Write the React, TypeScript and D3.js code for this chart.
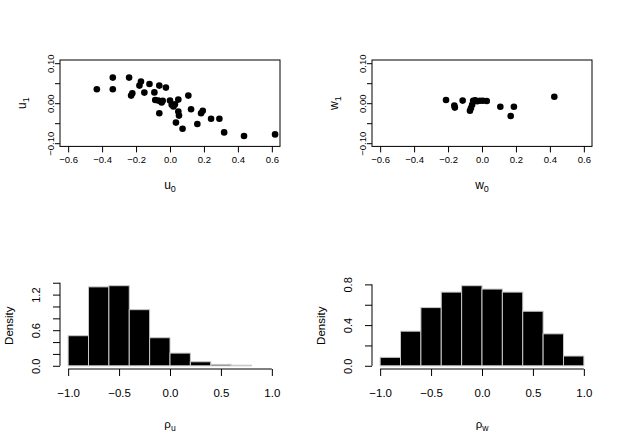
import React, { useEffect, useRef } from 'react';
import * as d3 from 'd3';

// scatter of u random effects
const u0 = [-0.431, -0.337, -0.337, -0.241, -0.171, -0.180, -0.121, -0.063, -0.024, -0.229, -0.222, -0.151, -0.092,
  -0.087, -0.069, -0.049, -0.043, 0.0, 0.049, 0.010, 0.020, 0.029, -0.063, 0.049, 0.053, 0.035, 0.074, 0.108,
  0.124, 0.161, 0.183, 0.193, 0.242, 0.291, 0.319, 0.436, 0.619];
const u1 = [0.035, 0.064, 0.035, 0.064, 0.054, 0.044, 0.048, 0.044, 0.039, 0.019, 0.025, 0.0265, 0.027,
  0.008, 0.0065, 0.002, 0.006, 0.0065, 0.009, -0.004, -0.008, -0.003, -0.025, -0.021, -0.031, -0.0485, -0.064, 0.019,
  -0.015, -0.052, -0.025, -0.019, -0.039, -0.039, -0.073, -0.082, -0.078];

// scatter of w random effects
const w0 = [-0.212, -0.163, -0.160, -0.114, -0.071, -0.065, -0.058, -0.052, -0.040, -0.028, -0.012, 0.005, 0.028,
  0.108, 0.169, 0.188, 0.426];
const w1 = [0.008, -0.006, -0.011, 0.0065, -0.019, -0.012, -0.004, 0.006, 0.007, 0.005, 0.006, 0.006, 0.0055,
  -0.009, -0.032, -0.009, 0.016];

// histograms (density per bin of width 0.2)
const rhoUBreaks = [-1, -0.8, -0.6, -0.4, -0.2, 0, 0.2, 0.4, 0.6, 0.8];
const rhoUDensity = [0.507, 1.33, 1.35, 0.946, 0.473, 0.214, 0.068, 0.023, 0.01];
const rhoWBreaks = [-1, -0.8, -0.6, -0.4, -0.2, 0, 0.2, 0.4, 0.6, 0.8, 1];
const rhoWDensity = [0.083, 0.34, 0.572, 0.724, 0.787, 0.754, 0.724, 0.536, 0.314, 0.096];

const scatterXTicks = [-0.6, -0.4, -0.2, 0, 0.2, 0.4, 0.6];
const scatterYTicks = [-0.1, -0.05, 0, 0.05, 0.1];
const scatterYLabels = ['−0.10', '', '0.00', '', '0.10'];
const histXTicks = [-1, -0.5, 0, 0.5, 1];
const rhoUYTicks = [0, 0.2, 0.4, 0.6, 0.8, 1.0, 1.2, 1.4];
const rhoUYLabels = ['0.0', '', '', '0.6', '', '', '1.2', ''];
const rhoWYTicks = [0, 0.2, 0.4, 0.6, 0.8];
const rhoWYLabels = ['0.0', '', '0.4', '', '0.8'];

const FONT = '"Liberation Sans", Arial, Helvetica, sans-serif';
const fmt = (d: number) => d3.format('.1f')(d).replace('-', '−');

// label with a subscript
const addLabel = (g, x, y, main, sub, size, rotate) => {
  const t = g.append('text')
    .attr('transform', `translate(${x},${y})${rotate ? ' rotate(-90)' : ''}`)
    .attr('text-anchor', 'middle')
    .attr('font-family', FONT)
    .attr('font-size', size);
  t.append('tspan').text(main);
  if (sub) t.append('tspan').attr('dy', 3).attr('font-size', size * 0.75).text(sub);
};

const drawScatter = (svg, xs, ys, left, right, top, bottom, name) => {
  const x = d3.scaleLinear().domain([-0.648, 0.648]).range([left, right]);
  const y = d3.scaleLinear().domain([-0.108, 0.108]).range([bottom, top]);
  const g = svg.append('g');

  const xAxis = d3.axisBottom(x).tickValues(scatterXTicks).tickSize(6).tickSizeOuter(0).tickFormat(fmt);
  const gx = g.append('g').attr('transform', `translate(0,${bottom})`).call(xAxis);
  gx.select('.domain').remove();
  gx.selectAll('text').attr('y', 17).attr('dy', 0).attr('font-size', 9.5).attr('font-family', FONT);

  const yAxis = d3.axisLeft(y).tickValues(scatterYTicks).tickSize(5).tickSizeOuter(0)
    .tickFormat((d, i) => scatterYLabels[i]);
  const gy = g.append('g').attr('transform', `translate(${left},0)`).call(yAxis);
  gy.select('.domain').remove();
  gy.selectAll('text')
    .attr('transform', 'rotate(-90)')
    .attr('x', 0).attr('y', -6.5).attr('dy', 0)
    .attr('text-anchor', 'middle')
    .attr('font-size', 9.5).attr('font-family', FONT);

  g.append('rect')
    .attr('x', left).attr('y', top)
    .attr('width', right - left).attr('height', bottom - top)
    .attr('fill', 'none').attr('stroke', '#000');

  g.selectAll('circle.pt')
    .data(xs.map((d, i) => [d, ys[i]]))
    .enter()
    .append('circle')
    .attr('cx', d => x(d[0]))
    .attr('cy', d => y(d[1]))
    .attr('r', 3.3)
    .attr('fill', '#000');

  addLabel(g, (left + right) / 2, 189, name, '0', 12, false);
  addLabel(g, left - 34, (top + bottom) / 2, name, '1', 12, true);
};

const drawHist = (svg, breaks, dens, yTicks, yLabels, left, right, top, bottom, sub) => {
  const maxD = d3.max(dens);
  const x = d3.scaleLinear().domain([-1.08, 1.08]).range([left, right]);
  const y = d3.scaleLinear().domain([-0.04 * maxD, 1.04 * maxD]).range([bottom, top]);
  const g = svg.append('g');

  g.selectAll('rect.bar')
    .data(dens)
    .enter()
    .append('rect')
    .attr('x', (d, i) => x(breaks[i]))
    .attr('y', d => y(d))
    .attr('width', (d, i) => x(breaks[i + 1]) - x(breaks[i]))
    .attr('height', d => y(0) - y(d))
    .attr('fill', '#000')
    .attr('stroke', '#c8c8c8')
    .attr('stroke-width', 1);

  const xAxis = d3.axisBottom(x).tickValues(histXTicks).tickSize(7).tickSizeOuter(0).tickFormat(fmt);
  const gx = g.append('g').attr('transform', `translate(0,${bottom})`).call(xAxis);
  gx.select('.domain').remove();
  gx.append('line')
    .attr('x1', x(histXTicks[0])).attr('x2', x(histXTicks[histXTicks.length - 1]))
    .attr('stroke', '#000');
  gx.selectAll('text').attr('y', 27.5).attr('dy', 0).attr('font-size', 11.5).attr('font-family', FONT);

  const yAxis = d3.axisLeft(y).tickValues(yTicks).tickSize(7).tickSizeOuter(0)
    .tickFormat((d, i) => yLabels[i]);
  const gy = g.append('g').attr('transform', `translate(${left},0)`).call(yAxis);
  gy.select('.domain').remove();
  gy.append('line')
    .attr('y1', y(yTicks[0])).attr('y2', y(yTicks[yTicks.length - 1]))
    .attr('stroke', '#000');
  gy.selectAll('text')
    .attr('transform', 'rotate(-90)')
    .attr('x', 0).attr('y', -20).attr('dy', 0)
    .attr('text-anchor', 'middle')
    .attr('font-size', 11).attr('font-family', FONT);

  addLabel(g, (left + right) / 2, 428, 'ρ', sub, 11.5, false);
  g.append('text')
    .attr('transform', `translate(${left - 47},${(top + bottom) / 2}) rotate(-90)`)
    .attr('text-anchor', 'middle')
    .attr('font-family', FONT)
    .attr('font-size', 11.5)
    .text('Density');
};

const App = () => {
  const svgRef = useRef(null);

  useEffect(() => {
    const svg = d3.select(svgRef.current);
    svg.selectAll('*').remove();

    drawScatter(svg, u0, u1, 60, 280, 60, 146.4, 'u');
    drawScatter(svg, w0, w1, 372, 592, 60, 146.4, 'w');
    drawHist(svg, rhoUBreaks, rhoUDensity, rhoUYTicks, rhoUYLabels, 60, 280, 282.5, 369, 'u');
    drawHist(svg, rhoWBreaks, rhoWDensity, rhoWYTicks, rhoWYLabels, 372, 592, 282.5, 369, 'w');
  }, []);

  return (
    <svg
      ref={svgRef}
      width={623}
      height={445}
      style={{ position: 'absolute', left: 0, top: 0, background: '#fff' }}
    />
  );
};

export default App;
